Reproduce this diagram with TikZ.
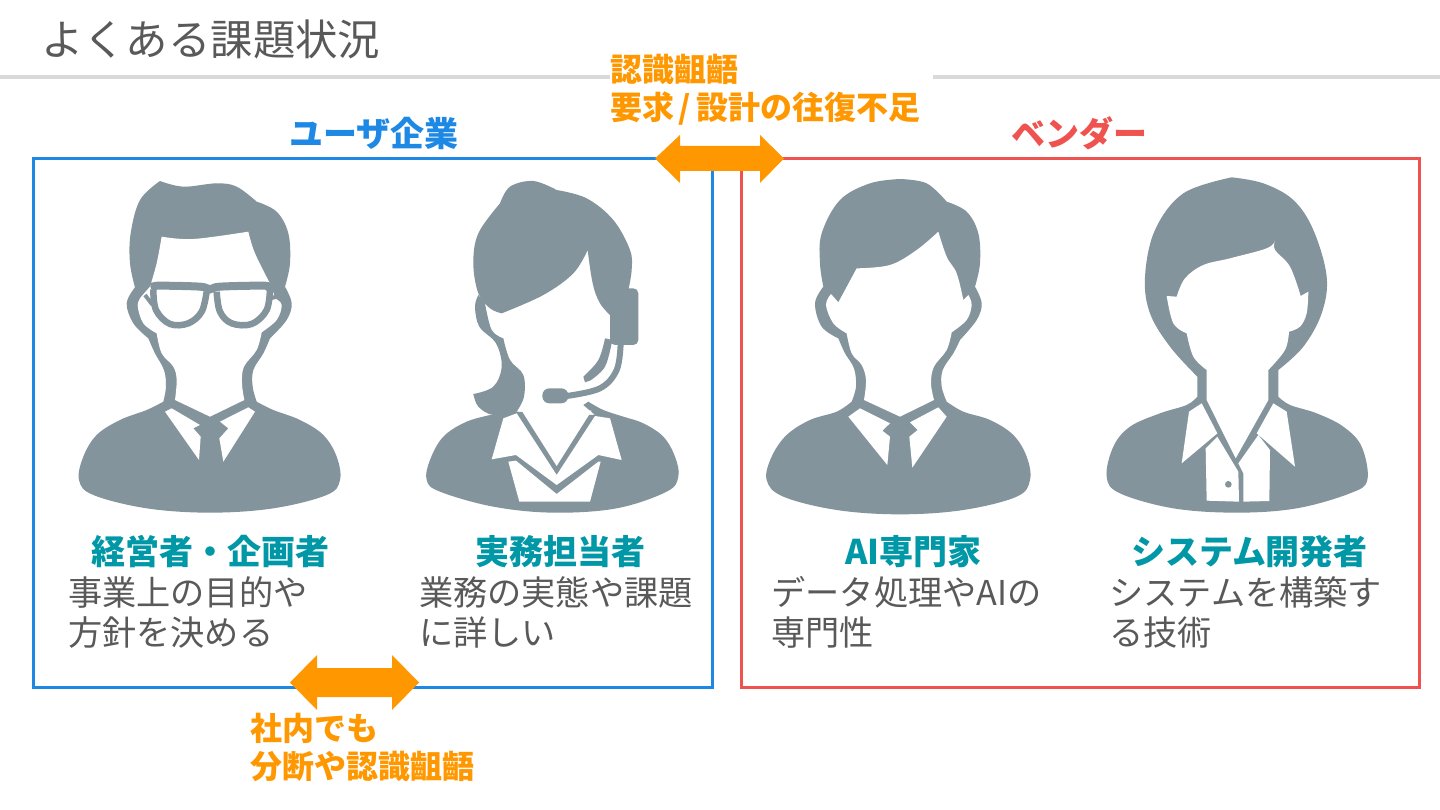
\documentclass[tikz,border=0pt]{standalone}
\usepackage{fontspec}
\setmainfont{Noto Sans CJK JP}
\definecolor{pgray}{HTML}{84949C}
\definecolor{blueb}{HTML}{1E88E5}
\definecolor{redb}{HTML}{EF5350}
\definecolor{tealt}{HTML}{0097A7}
\definecolor{orng}{HTML}{FF9800}
\definecolor{txt}{HTML}{595959}
\definecolor{rule}{HTML}{D9D9D9}
\tikzset{
  every plot/.style={smooth,tension=.6},
  person/.style={fill=pgray},
  hole/.style={fill=white},
  boxb/.style={draw=#1,line width=3pt},
  lbl/.style={anchor=base west,inner sep=0pt,outer sep=0pt},
  titlet/.style={lbl,text=txt,font=\fontsize{42.4}{50}\selectfont},
  grouphead/.style={lbl,text=#1,font=\fontsize{34}{40}\selectfont\bfseries},
  namet/.style={lbl,text=tealt,font=\fontsize{34}{40}\selectfont\bfseries},
  desct/.style={lbl,text=txt,font=\fontsize{34.2}{40}\selectfont},
  gapt/.style={lbl,text=orng,font=\fontsize{32}{38}\selectfont\bfseries},
  zoomed/.style 2 args={x=.33333pt,y=-.33333pt,shift={(#1pt,-#2pt)}}
}
\begin{document}
\begin{tikzpicture}[x=1pt,y=-1pt]
\useasboundingbox (0,0) rectangle (1440,810);
\fill[white] (0,0) rectangle (1440,810);
% title rule
\fill[rule] (0,75) rectangle (610,79);
\fill[rule] (933,75) rectangle (1440,79);
\node[titlet] (title) at (41,55.5) {よくある課題状況};
% boxes
\draw[boxb=blueb] (33,158.5) rectangle (712,687);
\draw[boxb=redb] (741,158.5) rectangle (1419,687);
\node[grouphead=blueb] (userhead) at (289,146.5) {ユーザ企業};
\node[grouphead=redb] (vendorhead) at (1011,146.5) {ベンダー};
% arrows
\fill[orng] (655,158.5) -- (680,135) -- (680,146) -- (760,146) -- (760,135) -- (784,158.5) -- (760,183) -- (760,171) -- (680,171) -- (680,183) -- cycle;
\fill[orng] (290,682.5) -- (317,655) -- (317,668) -- (392,668) -- (392,655) -- (419,682.5) -- (392,710) -- (392,697) -- (317,697) -- (317,710) -- cycle;
\node[gapt] (gap1a) at (610,81.5) {認識齟齬};
\node[gapt] (gap1b) at (610,120) {要求\hspace{5pt}/\hspace{5pt}設計の往復不足};
\node[gapt] (gap2a) at (250,740) {社内でも};
\node[gapt] (gap2b) at (250,778) {分断や認識齟齬};
% person 1
\begin{scope}[zoomed={60}{170}]
\fill[person] plot coordinates {(300,33)(370,50)(470,40)(530,50)(590,95)}
 -- plot coordinates {(590,95)(650,125)(685,190)(690,280)(675,350)}
 -- plot coordinates {(675,350)(695,400)(680,450)(630,505)}
 -- plot coordinates {(630,505)(610,550)(580,600)(578,650)(590,695)}
 -- plot coordinates {(590,695)(640,720)(720,750)(790,795)(830,860)(840,930)(800,975)(640,1015)(450,1028)(260,1015)(100,975)(57,930)(70,860)(110,795)(180,750)(260,720)(310,695)}
 -- plot coordinates {(310,695)(318,650)(312,600)(285,550)(265,505)}
 -- plot coordinates {(265,505)(220,460)(200,400)(225,352)}
 -- plot coordinates {(225,352)(210,280)(212,190)(240,90)(300,33)} -- cycle;
\fill[hole] plot coordinates {(305,200)(400,207)(565,185)}
 -- plot coordinates {(565,185)(585,250)(635,350)} -- (645,385)
 -- plot coordinates {(645,385)(665,405)(650,450)(605,487)}
 -- plot coordinates {(605,487)(590,540)(552,590)(546,640)(553,690)} -- (450,740)
 -- plot coordinates {(345,690)(350,630)(340,590)(305,550)(290,490)}
 -- plot coordinates {(290,490)(250,460)(233,405)(248,375)} -- (270,350)
 -- plot coordinates {(270,350)(290,280)(305,200)} -- cycle;
\draw[pgray,line width=8pt,line cap=round] plot coordinates {(283,350)(300,347)(420,350)(450,358)(480,350)(610,347)(625,352)};
\draw[pgray,line width=6.5pt] plot coordinates {(280,358)(288,420)(330,462)(385,460)(425,425)(440,365)};
\draw[pgray,line width=6.5pt] plot coordinates {(470,365)(480,425)(515,460)(575,462)(620,420)(630,355)};
\draw[pgray,line width=4pt] (255,375) -- (278,405) (630,385) -- (650,380);
\fill[hole] (315,725) -- (335,715) -- (420,765) -- (400,775) -- (422,800) -- (417,870) -- cycle;
\fill[hole] (585,725) -- (565,712) -- (480,755) -- (505,775) -- (478,805) -- (490,875) -- cycle;
\end{scope}
% person 2
\begin{scope}[zoomed={410}{170}]
\fill[person] plot coordinates {(270,100)(300,50)(370,33)(440,60)}
 -- plot coordinates {(440,60)(530,85)(610,150)(660,240)(665,300)(655,360)} -- (605,440)
 -- plot coordinates {(605,440)(570,400)(548,340)(533,240)}
 -- plot coordinates {(533,240)(490,310)(400,375)(275,430)}
 -- plot coordinates {(275,430)(240,415)(205,370)(190,280)(205,190)(270,100)} -- cycle;
\fill[person] plot coordinates {(205,375)(195,410)(208,470)(258,520)(275,590)(250,650)(190,672)}
 -- plot coordinates {(190,672)(205,710)(250,735)(320,725)}
 -- plot coordinates {(320,725)(342,680)(340,615)(300,570)(280,505)}
 -- plot coordinates {(280,505)(245,480)(225,400)} -- cycle;
\fill[person] plot coordinates {(250,733)(170,755)(100,800)(60,870)(50,930)(90,965)(250,1010)(430,1028)(620,1015)(770,965)(805,920)(795,860)(760,800)(700,760)(640,740)(580,720)(535,695)} -- (520,705) -- (555,735) -- (320,725) -- cycle;
\fill[hole] (335,722) -- (440,888) -- (545,722) -- cycle;
\fill[hole] (280,745) -- (245,868) -- (318,855) -- (440,945) -- (565,855) -- (635,870) -- (600,745) -- (555,738) -- (440,915) -- (320,730) -- cycle;
\fill[hole] (295,875) -- (328,995) -- (540,995) -- (572,875) -- (565,875) -- (440,972) -- (318,872) -- cycle;
\fill[person,rounded corners=5pt] (600,355) rectangle (685,525);
\draw[pgray,line width=6pt] plot coordinates {(632,520)(620,600)(570,655)(470,678)};
\fill[person] plot coordinates {(585,505)(565,570)(520,620)} -- (525,637) -- plot coordinates {(540,632)(585,590)(607,510)} -- cycle;
\fill[person,rounded corners=7pt] (397,655) rectangle (475,700);
\end{scope}
% person 3
\begin{scope}[zoomed={750}{170}]
\fill[person] plot coordinates {(450,27)(530,40)(590,95)}
 -- plot coordinates {(590,95)(650,125)(685,190)(690,280)(675,350)}
 -- plot coordinates {(675,350)(695,400)(680,450)(630,510)}
 -- plot coordinates {(630,510)(610,550)(578,600)(575,650)(590,695)}
 -- plot coordinates {(590,695)(640,725)(720,750)(790,795)(830,860)(840,930)(800,980)(640,1020)(450,1033)(260,1020)(100,980)(50,930)(65,860)(110,795)(180,750)(260,725)(305,695)}
 -- plot coordinates {(305,695)(318,650)(312,595)(285,550)(265,505)}
 -- plot coordinates {(265,505)(215,470)(195,400)(220,350)}
 -- plot coordinates {(220,350)(210,280)(215,190)(270,90)(360,40)(450,27)} -- cycle;
\fill[hole] plot coordinates {(320,295)(420,285)(500,240)(565,185)}
 -- plot coordinates {(565,185)(590,260)(620,310)(640,390)} -- (655,375)
 -- plot coordinates {(655,375)(665,405)(650,450)(605,487)}
 -- plot coordinates {(605,487)(590,540)(552,590)(543,640)(552,690)} -- (450,740)
 -- plot coordinates {(342,690)(348,630)(335,585)(305,550)(290,490)}
 -- plot coordinates {(290,490)(250,460)(228,405)(243,372)} -- (265,397) -- cycle;
\fill[hole] (295,740) -- (330,715) -- (420,760) -- (397,782) -- (420,800) -- (412,885) -- cycle;
\fill[hole] (590,740) -- (565,712) -- (480,757) -- (503,780) -- (478,800) -- (487,893) -- cycle;
\end{scope}
% person 4
\begin{scope}[zoomed={1090}{170}]
\fill[person] plot coordinates {(425,22)(520,40)(610,90)(670,180)(710,320)(695,430)(640,530)(565,600)} -- (565,680)
 -- plot coordinates {(565,680)(600,705)(680,730)(760,770)(815,830)(832,930)(780,970)(620,1015)(440,1028)(250,1015)(90,970)(50,920)(70,830)(120,770)(210,730)(290,705)(322,680)} -- (322,620)
 -- plot coordinates {(322,620)(240,530)(180,430)(165,320)(195,180)(280,70)(425,22)} -- cycle;
\fill[hole] plot coordinates {(260,380)(285,325)(340,285)(420,265)(530,235)(555,212)}
 -- plot coordinates {(555,212)(555,240)(600,290)(632,378)} -- (655,365)
 -- plot coordinates {(655,365)(650,430)(630,470)(597,485)}
 -- plot coordinates {(597,485)(585,540)(535,600)} -- (535,690) -- (437,865) -- (350,690) -- (350,600)
 -- plot coordinates {(350,600)(310,560)(290,490)}
 -- plot coordinates {(290,490)(250,460)(230,378)} -- cycle;
\fill[hole] (297,725) -- (335,700) -- (382,790) -- (275,880) -- cycle;
\fill[hole] (590,725) -- (550,700) -- (500,790) -- (615,890) -- cycle;
\fill[hole] (347,835) -- (382,800) -- (445,905) -- (447,995) -- (350,992) -- cycle;
\fill[hole] (445,880) -- (505,795) -- (540,840) -- (538,993) -- (460,995) -- (460,910) -- cycle;
\fill[person] (415,943) circle[radius=10];
\end{scope}
% labels
\node[namet] (n1) at (91.5,564.5) {経営者・企画者};
\node[desct] (d1a) at (68,605) {事業上の目的や};
\node[desct] (d1b) at (68,645) {方針を決める};
\node[namet] (n2) at (475.5,564.5) {実務担当者};
\node[desct] (d2a) at (419,605) {業務の実態や課題};
\node[desct] (d2b) at (419,645) {に詳しい};
\node[namet] (n3) at (845.5,564.5) {AI専門家};
\node[desct] (d3a) at (771.5,605) {データ処理やAIの};
\node[desct] (d3b) at (771.5,645) {専門性};
\node[namet] (n4) at (1131,564.5) {システム開発者};
\node[desct] (d4a) at (1109.5,605) {システムを構築す};
\node[desct] (d4b) at (1109.5,645) {る技術};
\end{tikzpicture}
\end{document}
